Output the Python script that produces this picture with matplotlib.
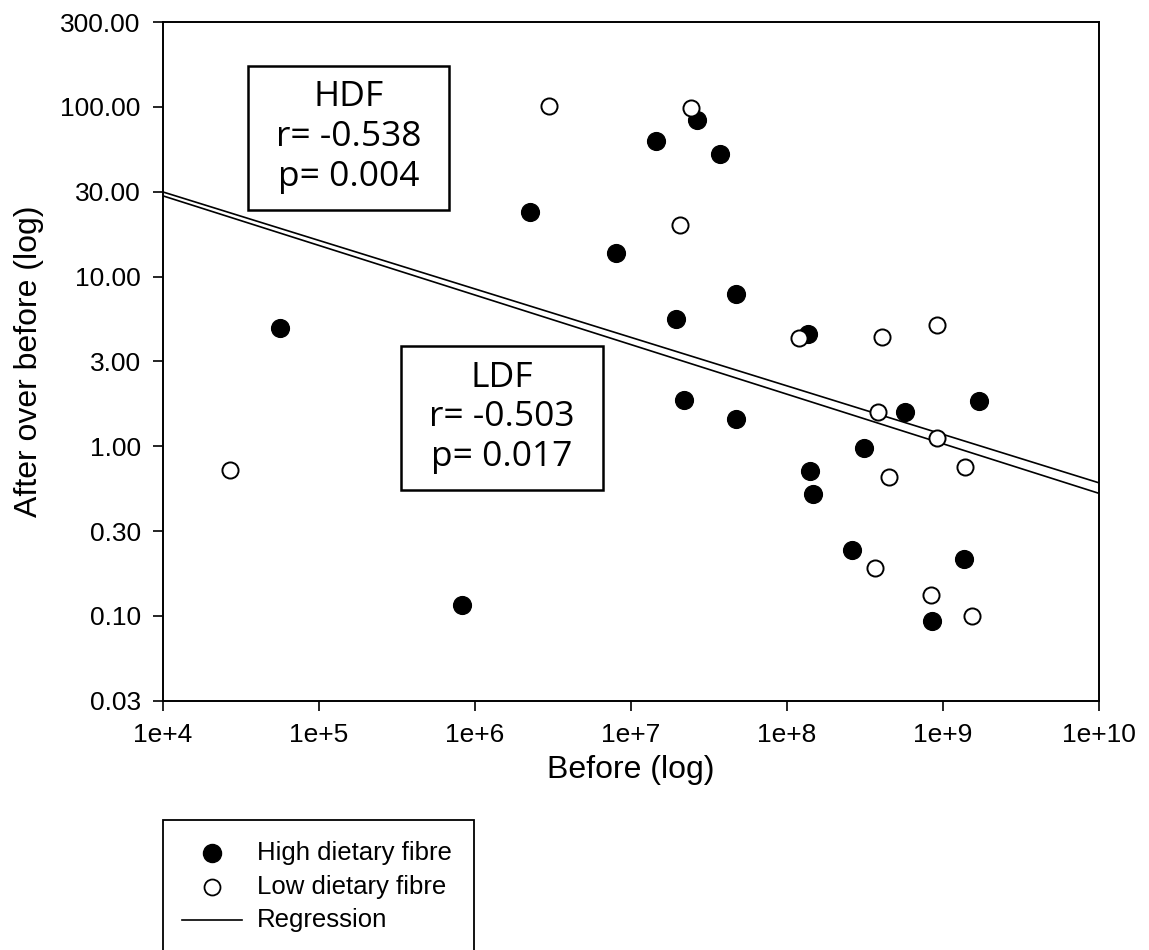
import numpy as np
import matplotlib.pyplot as plt
from matplotlib.patches import Rectangle
from matplotlib.lines import Line2D

# High dietary fibre (filled) - before vs after/before
hdf_before = [2.25e6, 5.6e4, 8.3e5, 2.65e7, 1.45e7, 3.7e7, 8.0e6, 4.7e7, 1.94e7, 1.36e8,
              2.2e7, 4.7e7, 5.7e8, 1.7e9, 3.1e8, 1.4e8, 1.47e8, 2.6e8, 1.36e9, 8.5e8]
hdf_ratio = [23.9, 4.96, 0.116, 83.4, 63.3, 52.6, 13.8, 7.87, 5.63, 4.59,
             1.86, 1.44, 1.59, 1.84, 0.975, 0.713, 0.52, 0.244, 0.216, 0.093]

# Low dietary fibre (open)
ldf_before = [2.98e6, 2.68e4, 2.43e7, 2.06e7, 1.19e8, 4.06e8, 9.16e8, 3.83e8, 9.16e8, 4.51e8,
              1.38e9, 3.66e8, 8.38e8, 1.53e9]
ldf_ratio = [100.8, 0.723, 98.1, 20.1, 4.33, 4.40, 5.17, 1.59, 1.12, 0.657,
             0.753, 0.191, 0.133, 0.0998]

# regression fits in log10 space: log10(y) = a + b*log10(x)
reg_a = [2.641, 2.644]
reg_b = [-0.2857, -0.2922]

xticks = [1e4, 1e5, 1e6, 1e7, 1e8, 1e9, 1e10]
xtick_labels = ['1e+4', '1e+5', '1e+6', '1e+7', '1e+8', '1e+9', '1e+10']
yticks = [10 ** (k / 2) for k in range(5, -4, -1)]
ytick_labels = ['300.00', '100.00', '30.00', '10.00', '3.00', '1.00', '0.30', '0.10', '0.03']

plt.rcParams['font.family'] = ['Liberation Sans', 'DejaVu Sans']

fig = plt.figure(figsize=(11.49, 9.5), dpi=100)
ax = fig.add_axes([163 / 1149, 1 - 700.7 / 950, 936 / 1149, 678.7 / 950])

ax.set_xscale('log')
ax.set_yscale('log')
ax.set_xlim(1e4, 1e10)
ax.set_ylim(10 ** -1.5, 10 ** 2.5)

# regression lines
xs = np.logspace(4, 10, 50)
for a, b in zip(reg_a, reg_b):
    ax.plot(xs, 10 ** (a + b * np.log10(xs)), color='black', lw=1.2, zorder=2)

ax.scatter(hdf_before, hdf_ratio, s=12.8 ** 2, color='black', zorder=3)
ax.scatter(ldf_before, ldf_ratio, s=11.6 ** 2, facecolor='white', edgecolor='black',
           linewidth=1.4, zorder=4)

ax.set_xticks(xticks)
ax.set_xticklabels(xtick_labels)
ax.set_yticks(yticks)
ax.set_yticklabels(ytick_labels)
ax.minorticks_off()
ax.tick_params(direction='out', length=7, width=1.2, labelsize=19, pad=9)
for sp in ax.spines.values():
    sp.set_linewidth(1.4)

ax.set_xlabel('Before (log)', fontsize=23, labelpad=6)
ax.set_ylabel('After over before (log)', fontsize=23, labelpad=12)

# stat boxes
box_font = ['Open Sans', 'DejaVu Sans']
ax.add_patch(Rectangle((0.0908, 0.7230), 0.2148, 0.2122, transform=ax.transAxes,
                       fill=False, lw=1.8, ec='black', zorder=5))
for yy, txt in zip([0.8900, 0.8311, 0.7722], ['HDF', 'r= -0.538', 'p= 0.004']):
    ax.text(0.198, yy, txt, transform=ax.transAxes, ha='center', va='center',
            fontsize=25.5, family=box_font)

ax.add_patch(Rectangle((0.2543, 0.3104), 0.2158, 0.2115, transform=ax.transAxes,
                       facecolor='white', lw=1.8, ec='black', zorder=5))
for yy, txt in zip([0.4755, 0.4185, 0.3595], ['LDF', 'r= -0.503', 'p= 0.017']):
    ax.text(0.3622, yy, txt, transform=ax.transAxes, ha='center', va='center',
            fontsize=25.5, family=box_font, zorder=6)

# legend drawn by hand, box runs off the bottom of the figure
fig.add_artist(Rectangle((163 / 1149, -0.05), 311 / 1149, 0.05 + 1 - 820 / 950,
                         transform=fig.transFigure, fill=False, lw=1.3, ec='black'))
rows = [1 - 853 / 950, 1 - 887 / 950, 1 - 920 / 950]
fig.add_artist(Line2D([212 / 1149], [rows[0]], marker='o', ms=13, color='black',
                      transform=fig.transFigure))
fig.add_artist(Line2D([212 / 1149], [rows[1]], marker='o', ms=11.5, mfc='white',
                      mec='black', mew=1.3, transform=fig.transFigure))
fig.add_artist(Line2D([182 / 1149, 242 / 1149], [rows[2], rows[2]], color='black',
                      lw=1.2, transform=fig.transFigure))
for yy, txt in zip(rows, ['High dietary fibre', 'Low dietary fibre', 'Regression']):
    fig.text(257 / 1149, yy, txt, fontsize=18.5, va='center', ha='left')

fig.savefig('out.png', dpi=100)
